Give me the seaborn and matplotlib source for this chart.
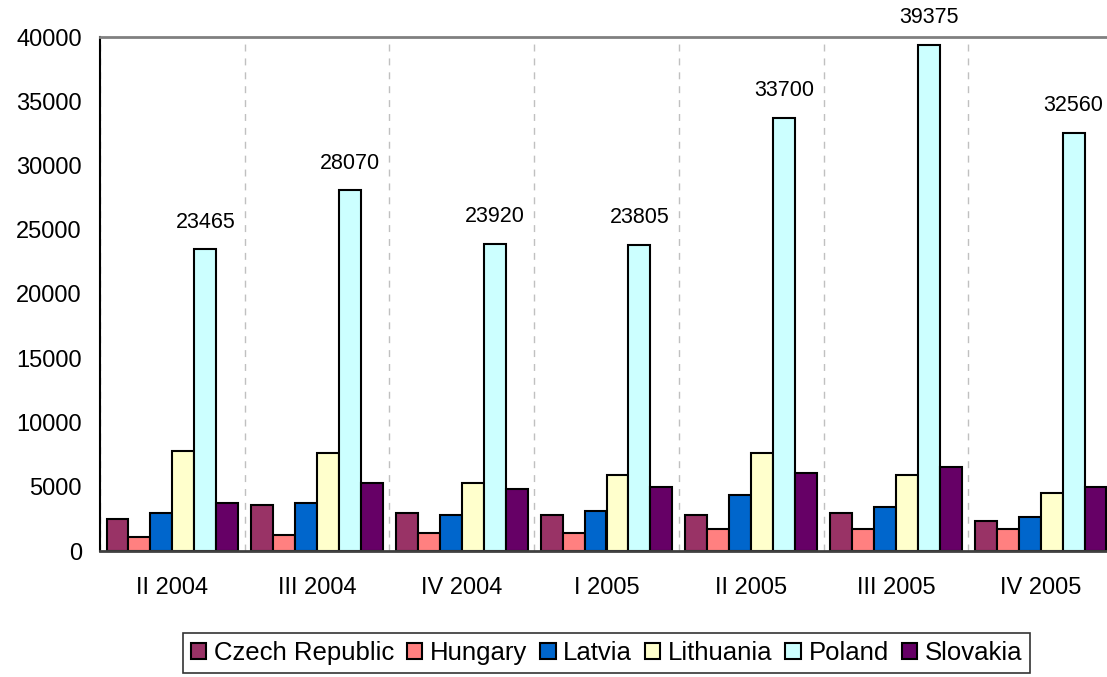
import matplotlib
matplotlib.use("Agg")
import matplotlib.pyplot as plt
import seaborn as sns
import pandas as pd
import numpy as np

quarters = ["II 2004", "III 2004", "IV 2004", "I 2005", "II 2005", "III 2005", "IV 2005"]
countries = ["Czech Republic", "Hungary", "Latvia", "Lithuania", "Poland", "Slovakia"]
czech = [2520, 3560, 2930, 2780, 2780, 2930, 2335]
hungary = [1090, 1220, 1380, 1380, 1710, 1710, 1710]
latvia = [2960, 3735, 2780, 3090, 4330, 3425, 2645]
lithuania = [7760, 7630, 5270, 5890, 7630, 5890, 4490]
poland = [23465, 28070, 23920, 23805, 33700, 39375, 32560]
slovakia = [3710, 5290, 4800, 4960, 6070, 6540, 4960]
colors = ["#993366", "#FF8080", "#0066CC", "#FFFFCC", "#CCFFFF", "#660066"]

series = [czech, hungary, latvia, lithuania, poland, slovakia]
rows = []
for c, vals in zip(countries, series):
    for q, v in zip(quarters, vals):
        rows.append({"quarter": q, "country": c, "value": v})
df = pd.DataFrame(rows)

sns.set_theme(style="white")
plt.rcParams["font.family"] = ["Liberation Sans", "DejaVu Sans"]
plt.rcParams["text.color"] = "black"

fig = plt.figure(figsize=(11.07, 6.77), dpi=100)
ax = fig.add_axes([100 / 1107, 126 / 677, 1013 / 1107, 514 / 677])

sns.barplot(data=df, x="quarter", y="value", hue="country", order=quarters,
            hue_order=countries, palette=dict(zip(countries, colors)),
            width=0.91, edgecolor="black", linewidth=1.5, ax=ax, saturation=1)

ax.set_xlim(-0.5, len(quarters) - 0.5)
ax.set_ylim(0, 40000)
ax.set_yticks(np.arange(0, 40001, 5000))
ax.set_xlabel("")
ax.set_ylabel("")

ax.set_xticks(np.arange(-0.5, len(quarters), 1.0), minor=True)
ax.tick_params(axis="x", which="major", length=0, labelsize=17, pad=19,
               labelcolor="black")
ax.tick_params(axis="x", which="minor", length=7, width=1, direction="out", color="black")
ax.tick_params(axis="y", which="major", length=7, width=1.2, direction="out",
               color="#808080", labelsize=17, pad=6, labelcolor="black")
ax.grid(axis="x", which="minor", linestyle=(0, (5, 5)), color="#c0c0c0", linewidth=1)
ax.grid(axis="y", visible=False)
ax.set_axisbelow(True)

ax.spines["right"].set_visible(False)
ax.spines["top"].set_color("#808080")
ax.spines["top"].set_linewidth(2)
ax.spines["left"].set_color("black")
ax.spines["left"].set_linewidth(1.5)
ax.spines["bottom"].set_color("#404040")
ax.spines["bottom"].set_linewidth(2)

ax.bar_label(ax.containers[4], labels=[str(v) for v in poland], padding=12,
             fontsize=15.5, color="black")

handles, labels = ax.get_legend_handles_labels()
if ax.get_legend() is not None:
    ax.get_legend().remove()
leg = ax.legend(handles, labels, loc="upper center", bbox_to_anchor=(0.5, -0.16),
                borderaxespad=0, ncol=6, frameon=True, fontsize=18.5,
                handlelength=0.6, handleheight=0.6, handletextpad=0.3,
                columnspacing=0.5, borderpad=0.3, fancybox=False, edgecolor="black")
leg.get_frame().set_linewidth(1.2)
for t in leg.get_texts():
    t.set_color("black")

fig.savefig("out.png", dpi=100)
